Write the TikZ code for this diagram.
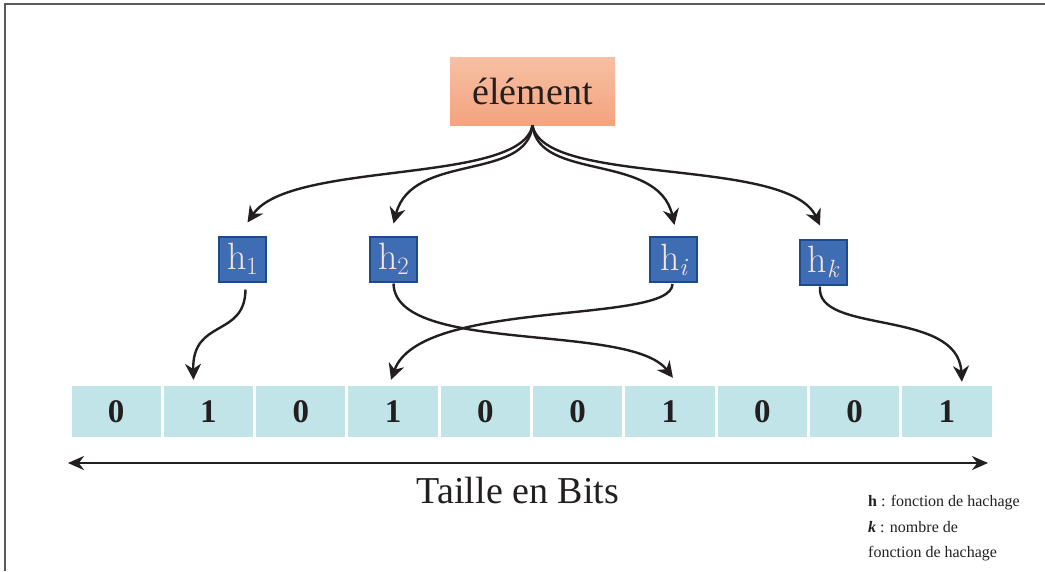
\documentclass[tikz,border=0pt]{standalone}
\usepackage{fontspec}
\setmainfont{Liberation Serif}
\usetikzlibrary{arrows.meta,calc}
\definecolor{peachtop}{HTML}{F6C0A4}
\definecolor{peachbot}{HTML}{F4A37E}
\definecolor{hashfill}{HTML}{3F6DB4}
\definecolor{hashedge}{HTML}{1C4A8A}
\definecolor{hashtext}{HTML}{F8E4D6}
\definecolor{bitfill}{HTML}{C0E4E8}
\definecolor{ink}{HTML}{231F20}
% hash function label: roman h with a lowered index
\newcommand{\hashlabel}[1]{{\fontfamily{lmr}\selectfont h\raisebox{-5pt}{\fontsize{25}{25}\selectfont #1}}}
\tikzset{
  elembox/.style={minimum width=165pt, minimum height=68pt, inner sep=0pt,
    top color=peachtop, bottom color=peachbot, draw=none,
    font=\fontsize{38}{38}\selectfont, text=ink},
  hashbox/.style={draw=hashedge, line width=2pt, fill=hashfill,
    minimum width=47pt, minimum height=45pt, inner sep=0pt, text=hashtext,
    font=\fontsize{38}{38}\selectfont},
  bitcell/.style={fill=bitfill, draw=none, minimum width=89.3pt, minimum height=51pt,
    inner sep=0pt, font=\fontsize{33}{33}\selectfont\bfseries, text=ink},
  link/.style={draw=ink, line width=2.4pt,
    -{Stealth[length=16pt,width=16pt]}},
  sizearrow/.style={draw=ink, line width=2.2pt,
    {Stealth[length=16pt,width=14pt]}-{Stealth[length=16pt,width=14pt]}},
  legend/.style={anchor=base west, inner sep=0pt, font=\fontsize{16}{16}\selectfont, text=ink}
}
\begin{document}
\begin{tikzpicture}[x=1pt,y=-1pt]
\useasboundingbox (0,0) rectangle (1045,571);
% outer frame (top and left edges)
\draw[line width=1.6pt, black!65] (5,571) -- (5,4) -- (1045,4);

% element to insert
\node[elembox] (el) at (532.5,91) {élément};

% hash functions
\node[hashbox] (h1) at (242.5,259) {\hashlabel{1}};
\node[hashbox] (h2) at (393.5,259) {\hashlabel{2}};
\node[hashbox] (hi) at (673.5,259.5) {\hashlabel{\itshape i}};
\node[hashbox] (hk) at (823,262) {\hashlabel{\itshape k}};

% bit array
\foreach \b [count=\i from 0] in {0,1,0,1,0,0,1,0,0,1} {
  \node[bitcell] (c\i) at ({70+92.3*(\i+0.5)},411.5) {\b};
}

% element to hash functions
\draw[link] (el.south) .. controls (522,185) and (290,160) .. ([shift={(5pt,13pt)}]h1.north);
\draw[link] (el.south) .. controls (527,182) and (412,152) .. ([shift={(0pt,12pt)}]h2.north);
\draw[link] (el.south) .. controls (538,182) and (658,152) .. ([shift={(1pt,11pt)}]hi.north);
\draw[link] (el.south) .. controls (543,187) and (788,156) .. ([shift={(-3pt,13pt)}]hk.north);

% hash functions to bits
\draw[link] ([shift={(3pt,-7pt)}]h1.south) .. controls (245,338) and (192,318) .. ([shift={(-15pt,6pt)}]c1.north);
\draw[link] ([shift={(0pt,-1pt)}]h2.south) .. controls (395,355) and (630,322) .. ([shift={(3pt,8pt)}]c6.north);
\draw[link] ([shift={(-1pt,-1pt)}]hi.south) .. controls (672,325) and (420,298) .. ([shift={(-2pt,6pt)}]c3.north);
\draw[link] ([shift={(-3pt,-1pt)}]hk.south) .. controls (815,335) and (958,308) .. ([shift={(15pt,4pt)}]c9.north);

% size of the array
\coordinate (sl) at (68,463);
\coordinate (sr) at (988,463);
\draw[sizearrow] (sl) -- (sr);
\node[font=\fontsize{38}{38}\selectfont, text=ink] (size) at (518,490) {Taille en Bits};

% legend
\node[legend] (lg1) at (868,506) {\textbf{h} : fonction de hachage};
\node[legend] (lg2) at (868,532) {\textbf{\textit{k}} : nombre de};
\node[legend] (lg3) at (868,557) {fonction de hachage};
\end{tikzpicture}
\end{document}
